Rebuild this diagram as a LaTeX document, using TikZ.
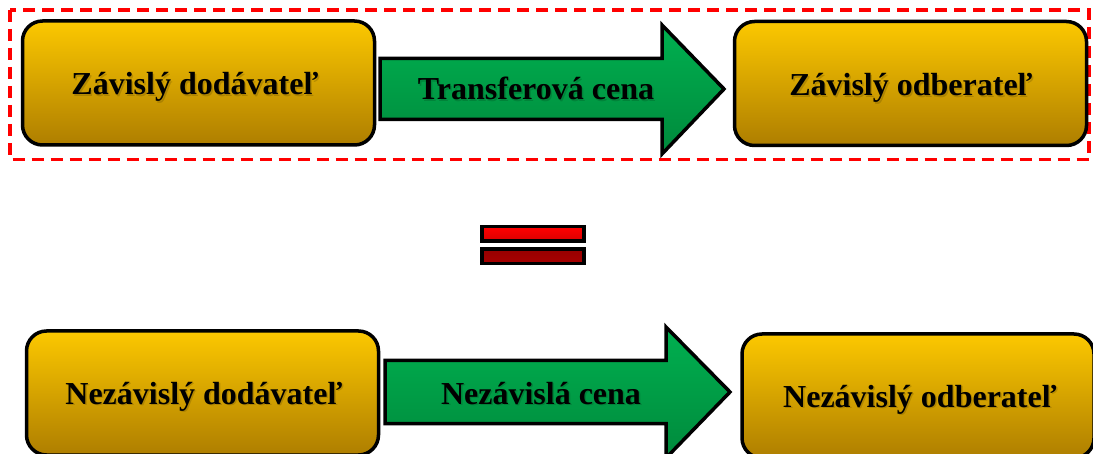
\documentclass[tikz,border=0pt]{standalone}
\usepackage{fontspec}
\setmainfont{Liberation Serif}
\definecolor{boxtop}{HTML}{FCC800}
\definecolor{boxbot}{HTML}{AE7E00}
\definecolor{arrtop}{HTML}{00B050}
\definecolor{arrbot}{HTML}{008A3C}
\definecolor{bartop}{HTML}{FF0000}
\definecolor{barbot}{HTML}{A80000}
\tikzset{
  box/.style={draw=black, line width=3.5pt, rounded corners=20pt,
    top color=boxtop, bottom color=boxbot,
    minimum width=352pt, minimum height=124pt, inner sep=0pt},
  bigarrow/.style={draw=black, line width=3.5pt, top color=arrtop, bottom color=arrbot},
  lbl/.style={font=\fontsize{32}{38}\selectfont\bfseries, text=black, inner sep=0pt, anchor=base},
  shad/.style={font=\fontsize{32}{38}\selectfont\bfseries, text=black, opacity=0.15, inner sep=0pt, anchor=base},
  frame/.style={draw=red, line width=3.5pt, dash pattern=on 12pt off 7pt},
  eqbar/.style={draw=black, line width=3.5pt, minimum width=102pt, minimum height=14.5pt, inner sep=0pt}
}
\begin{document}
\begin{tikzpicture}[x=1pt,y=-1pt]
\useasboundingbox (0,0) rectangle (1093,454);
% dashed frame
\draw[frame] (10,10) rectangle (1089,159.5);
% top row
\node[box] (dep1) at (198.5,83) {};
\node[box] (dep2) at (910.5,83.5) {};
\draw[bigarrow] (380,58.5) -- (662,58.5) -- (662,25) -- (724,89) -- (662,154) -- (662,119.5) -- (380,119.5) -- cycle;
% equals sign
\node[eqbar, top color=bartop, bottom color=bartop!85!black] (eq1) at (533,234) {};
\node[eqbar, top color=barbot!120!red, bottom color=barbot] (eq2) at (533,256.5) {};
% bottom row
\node[box] (ind1) at (202.5,393) {};
\node[box] (ind2) at (918,396) {};
\draw[bigarrow] (385,360.5) -- (666,360.5) -- (666,327) -- (730,392) -- (666,458) -- (666,423.5) -- (385,423.5) -- cycle;
% text shadows
\node[shad] at (196.5,96.5) {Závislý dodávateľ};
\node[shad] at (912.5,97.5) {Závislý odberateľ};
\node[shad] at (537.5,101.5) {Transferová cena};
\node[shad] at (205.5,405.5) {Nezávislý dodávateľ};
\node[shad] at (921.5,408.5) {Nezávislý odberateľ};
\node[shad] at (542.5,405.5) {Nezávislá cena};
% labels
\node[lbl] (dep1t) at (195,95) {Závislý dodávateľ};
\node[lbl] (dep2t) at (911,96) {Závislý odberateľ};
\node[lbl] (tp) at (536,100) {Transferová cena};
\node[lbl] (ind1t) at (204,404) {Nezávislý dodávateľ};
\node[lbl] (ind2t) at (920,407) {Nezávislý odberateľ};
\node[lbl] (ip) at (541,404) {Nezávislá cena};
\end{tikzpicture}
\end{document}
